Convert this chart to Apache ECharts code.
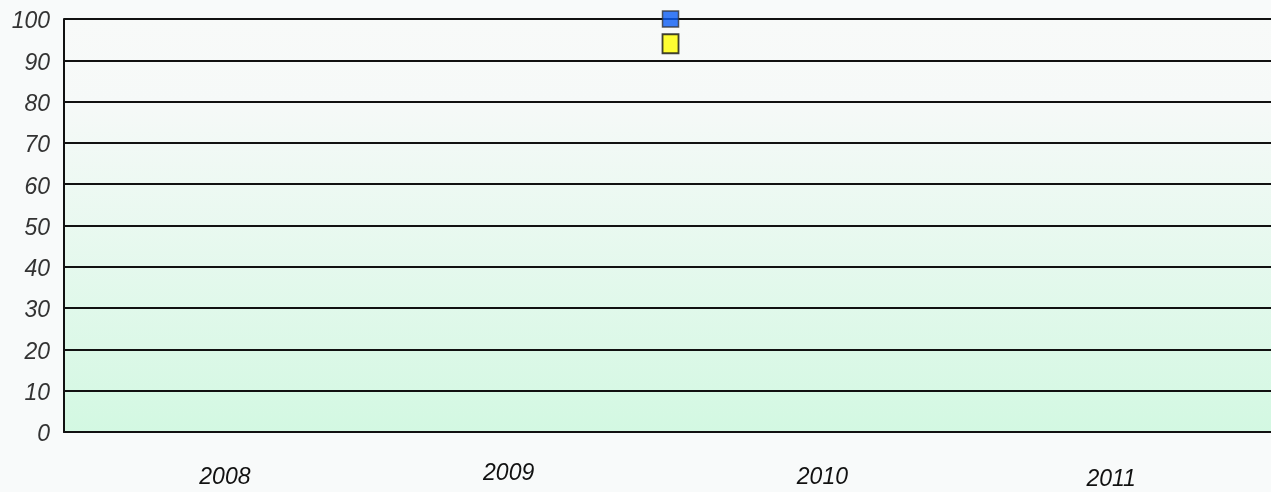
<!DOCTYPE html>
<html>
<head>
<meta charset="utf-8">
<script src="https://cdn.jsdelivr.net/npm/echarts@6/dist/echarts.min.js"></script>
<style>
  html, body { margin: 0; padding: 0; background: #f8fafa; }
  #chart { width: 1271px; height: 492px; }
</style>
</head>
<body>
<div id="chart"></div>
<script>
// years on the x axis
const years = [2008, 2009, 2010, 2011];
// y axis tick values
const yTicks = [0, 10, 20, 30, 40, 50, 60, 70, 80, 90, 100];
// the two points, [x position in years, value]
const blueSeries = [[2009.51, 100]];
const yellowSeries = [[2009.51, 94]];

let mychart = echarts.init(document.getElementById('chart'));

let option = {
  backgroundColor: '#f8fafa',
  animation: false,
  grid: {
    left: 64, right: 0, top: 19, bottom: 60,
    show: true,
    borderWidth: 0,
    backgroundColor: {
      type: 'linear', x: 0, y: 0, x2: 0, y2: 1,
      colorStops: [
        { offset: 0, color: '#f8faf9' },
        { offset: 0.2, color: '#f6f9f8' },
        { offset: 1, color: '#d3f8e2' }
      ]
    }
  },
  xAxis: {
    type: 'value',
    min: 2007.5,
    max: 2011.5,
    axisLine: { show: true, lineStyle: { color: '#111', width: 2 } },
    axisTick: { show: false },
    splitLine: { show: false },
    axisLabel: {
      customValues: years,
      margin: 30,
      formatter: function (v) {
        return '{y' + v + '|' + v + '}';
      },
      rich: {
        y2008: { fontSize: 23, fontStyle: 'italic', color: '#111', fontFamily: 'Liberation Sans', padding: [4, 0, 0, 20] },
        y2009: { fontSize: 23, fontStyle: 'italic', color: '#111', fontFamily: 'Liberation Sans', padding: [0, 16, 0, 0] },
        y2010: { fontSize: 23, fontStyle: 'italic', color: '#111', fontFamily: 'Liberation Sans', padding: [4, 0, 0, 8] },
        y2011: { fontSize: 23, fontStyle: 'italic', color: '#111', fontFamily: 'Liberation Sans', padding: [6, 18, 0, 0] }
      }
    }
  },
  yAxis: {
    type: 'value',
    min: 0,
    max: 100,
    interval: 10,
    axisLine: { show: true, lineStyle: { color: '#111', width: 2 } },
    axisTick: { show: false },
    splitLine: { show: true, lineStyle: { color: '#111', width: 2 } },
    axisLabel: {
      margin: 14,
      formatter: function (v) { return yTicks.indexOf(v) >= 0 ? '{t|' + v + '}' : ''; },
      rich: {
        t: { fontSize: 23, fontStyle: 'italic', color: '#333', fontFamily: 'Liberation Sans', padding: [6, 0, 0, 0] }
      }
    }
  },
  series: [
    {
      type: 'scatter',
      data: yellowSeries,
      symbol: 'rect',
      symbolSize: [16, 19],
      z: 3,
      itemStyle: { color: '#ffff00', borderColor: '#111', borderWidth: 2 }
    },
    {
      type: 'scatter',
      data: blueSeries,
      symbol: 'rect',
      symbolSize: 16,
      z: 4,
      itemStyle: { color: '#0a5cf5', borderColor: '#333', borderWidth: 1.5 }
    }
  ]
};
mychart.setOption(option);
</script>
</body>
</html>
